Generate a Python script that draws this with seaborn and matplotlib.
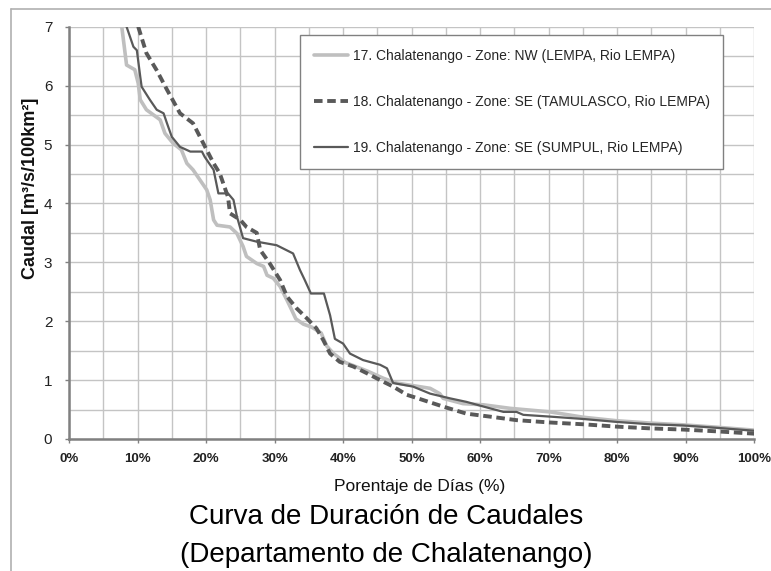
import seaborn as sns
import matplotlib.pyplot as plt
from matplotlib.lines import Line2D
from matplotlib.ticker import MultipleLocator, PercentFormatter

# Curve data (x = % of days, y = caudal m3/s/100km2)
x17 = [7.7, 8.4, 9.6, 10.1, 10.4, 11.3, 13.3, 14.0, 15.2, 16.4, 17.2, 18.1, 19.1, 20.1,
       20.6, 21.1, 21.6, 23.5, 24.5, 25.4, 25.9, 27.4, 28.4, 28.9, 29.8, 30.8, 31.8, 32.5,
       33.1, 34.2, 35.4, 36.8, 37.6, 38.6, 40.3, 43.6, 45.9, 47.8, 52.7, 54.1, 54.6, 57.5,
       60.5, 64.4, 70.2, 75.0, 79.9, 84.8, 89.6, 94.5, 100.0]
y17 = [7.0, 6.35, 6.27, 6.04, 5.76, 5.59, 5.42, 5.19, 5.02, 4.91, 4.68, 4.57, 4.40, 4.23,
       4.06, 3.72, 3.63, 3.60, 3.49, 3.27, 3.10, 2.98, 2.93, 2.78, 2.73, 2.59, 2.36, 2.19,
       2.04, 1.95, 1.90, 1.80, 1.58, 1.45, 1.30, 1.15, 1.03, 0.95, 0.86, 0.77, 0.69, 0.60,
       0.58, 0.52, 0.46, 0.37, 0.31, 0.27, 0.24, 0.20, 0.15]

x18 = [10.1, 11.3, 12.8, 14.3, 16.2, 18.1, 19.6, 21.1, 22.0, 23.2, 23.5, 25.0, 25.9, 27.4,
       27.9, 29.3, 30.8, 31.8, 33.2, 34.7, 36.1, 37.1, 38.1, 39.5, 41.5, 43.4, 45.9, 47.3,
       49.3, 51.7, 54.6, 58.0, 61.4, 65.3, 70.2, 75.0, 79.9, 84.8, 89.6, 94.5, 100.0]
y18 = [7.0, 6.55, 6.26, 5.93, 5.53, 5.36, 5.02, 4.68, 4.51, 4.11, 3.83, 3.72, 3.60, 3.50,
       3.21, 2.98, 2.70, 2.42, 2.22, 2.05, 1.88, 1.68, 1.45, 1.31, 1.23, 1.12, 0.97, 0.89,
       0.75, 0.66, 0.55, 0.43, 0.38, 0.32, 0.28, 0.25, 0.21, 0.18, 0.16, 0.13, 0.09]

x19 = [8.4, 9.4, 9.9, 10.4, 10.6, 11.8, 12.8, 13.8, 14.3, 15.0, 16.2, 17.7, 19.4, 19.8,
       21.1, 21.8, 23.2, 24.0, 24.5, 25.4, 27.4, 30.3, 32.7, 33.7, 34.4, 35.3, 37.2, 38.1,
       38.8, 40.0, 41.0, 42.9, 45.4, 46.4, 47.3, 50.2, 52.7, 55.6, 58.0, 60.5, 63.4, 65.3,
       66.3, 70.2, 75.0, 79.9, 84.8, 89.6, 94.5, 100.0]
y19 = [7.0, 6.66, 6.6, 6.15, 5.98, 5.76, 5.59, 5.53, 5.36, 5.13, 4.96, 4.88, 4.88, 4.79,
       4.57, 4.17, 4.17, 4.06, 3.78, 3.41, 3.35, 3.29, 3.15, 2.87, 2.70, 2.47, 2.47, 2.10,
       1.70, 1.62, 1.45, 1.34, 1.26, 1.20, 0.95, 0.89, 0.77, 0.69, 0.63, 0.55, 0.46, 0.46,
       0.41, 0.38, 0.34, 0.29, 0.25, 0.23, 0.19, 0.14]

labels = ["17. Chalatenango - Zone: NW (LEMPA, Rio LEMPA)",
          "18. Chalatenango - Zone: SE (TAMULASCO, Rio LEMPA)",
          "19. Chalatenango - Zone: SE (SUMPUL, Rio LEMPA)"]

sns.set_theme(style="whitegrid")
plt.rcParams['font.family'] = ['Liberation Sans', 'DejaVu Sans']

fig = plt.figure(figsize=(7.71, 5.71), dpi=100)
fig.patch.set_facecolor('white')
# outer frame (only left and top edges are visible)
fig.add_artist(Line2D([0.0143, 0.0143], [0, 0.984], color='#b0b0b0', lw=1.2))
fig.add_artist(Line2D([0.0143, 1.0], [0.984, 0.984], color='#b0b0b0', lw=1.2))

ax = fig.add_axes([0.0895, 0.2312, 0.8888, 0.7220])
ax.set_facecolor('white')

sns.lineplot(x=x17, y=y17, ax=ax, color='#bfbfbf', lw=2.6, sort=False, estimator=None,
             label=labels[0])
sns.lineplot(x=x18, y=y18, ax=ax, color='#595959', lw=2.8, sort=False, estimator=None,
             label=labels[1], linestyle=(0, (2.2, 1.2)))
sns.lineplot(x=x19, y=y19, ax=ax, color='#595959', lw=1.6, sort=False, estimator=None,
             label=labels[2])

ax.set_xlim(0, 100)
ax.set_ylim(0, 7)
ax.xaxis.set_major_locator(MultipleLocator(10))
ax.xaxis.set_minor_locator(MultipleLocator(5))
ax.yaxis.set_major_locator(MultipleLocator(1))
ax.yaxis.set_minor_locator(MultipleLocator(0.5))
ax.xaxis.set_major_formatter(PercentFormatter(decimals=0))

ax.grid(which='both', color='#c4c4c4', lw=1.0)
for s in ['top', 'right']:
    ax.spines[s].set_visible(False)
for s in ['left', 'bottom']:
    ax.spines[s].set_color('#808080')
    ax.spines[s].set_linewidth(1.8)

ax.tick_params(which='major', direction='out', length=3, width=1, color='#808080',
               bottom=True, left=True)
ax.tick_params(which='minor', length=0)
ax.tick_params(axis='x', pad=7, labelsize=9.5)
ax.tick_params(axis='y', pad=9, labelsize=11)
for t in ax.get_xticklabels():
    t.set_fontweight('bold')
    t.set_color('#222222')
for t in ax.get_yticklabels():
    t.set_color('#222222')

ax.set_ylabel('Caudal [m³/s/100km²]', fontsize=13, fontweight='bold', color='#111111')
ax.yaxis.set_label_coords(-0.0555, 0.607)
ax.yaxis.label.set_va('center')
ax.set_xlabel('Porentaje de Días (%)', fontsize=12.5, color='#111111')
ax.xaxis.set_label_coords(0.512, -0.1157)
ax.xaxis.label.set_va('center')

leg = ax.legend(loc='upper right', bbox_to_anchor=(0.955, 0.98), frameon=True,
                fancybox=False, framealpha=1, edgecolor='#808080',
                prop={'size': 10}, labelspacing=2.3,
                handlelength=2.4, handletextpad=0.35, borderpad=1.0, borderaxespad=0)
leg.get_frame().set_linewidth(1.0)

fig.text(0.5006, 0.095, 'Curva de Duración de Caudales', ha='center', va='center',
         fontsize=20, color='black')
fig.text(0.5006, 0.028, '(Departamento de Chalatenango)', ha='center', va='center',
         fontsize=20, color='black')

fig.savefig('out.png', dpi=100, facecolor='white')
